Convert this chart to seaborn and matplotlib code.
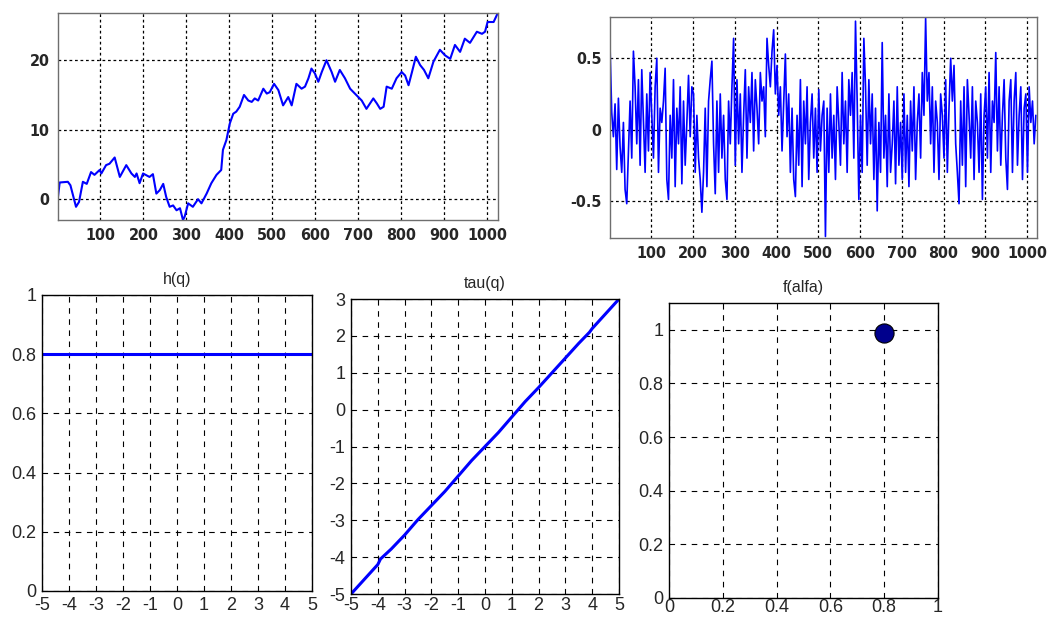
import numpy as np
import pandas as pd
import matplotlib
matplotlib.use("Agg")
import matplotlib.pyplot as plt
import seaborn as sns

# ---------------- data ----------------
walk_n = [1, 5, 24, 30, 43, 50, 59, 68, 78, 86, 98, 102, 113, 121, 133, 145, 160, 172,
          180, 184, 191, 199, 214, 222, 230, 238, 246, 253, 261, 269, 277, 285, 292, 296,
          304, 315, 327, 335, 347, 358, 370, 381, 385, 393, 401, 409, 416, 424, 434, 444,
          452, 459, 467, 479, 487, 494, 504, 514, 525, 537, 545, 556, 568, 576, 584, 591,
          599, 607, 615, 626, 638, 646, 657, 669, 681, 692, 700, 708, 719, 735, 743, 751,
          759, 766, 778, 789, 801, 809, 817, 825, 834, 844, 853, 863, 875, 890, 902, 914,
          925, 937, 948, 960, 976, 988, 995, 1001, 1015, 1024]
walk_v = [0.3, 2.4, 2.5, 2.0, -1.1, -0.4, 2.5, 2.2, 3.9, 3.5, 4.2, 3.7, 4.9, 5.1, 6.0, 3.2, 4.9, 3.7,
          3.2, 3.7, 2.3, 3.7, 3.2, 3.6, 0.8, 1.3, 2.2, 0.3, -1.1, -0.9, -1.6, -1.3, -3.0, -2.5,
          -0.6, -1.1, 0.0, -0.6, 0.8, 2.3, 3.5, 4.2, 7.1, 8.5, 10.9, 12.3, 12.6, 13.3, 15.0, 14.2,
          14.0, 14.5, 14.2, 15.9, 15.2, 15.4, 16.6, 15.7, 13.5, 14.7, 13.5, 16.6, 15.9, 16.2, 17.4, 18.8,
          18.1, 16.9, 18.3, 20.0, 18.3, 16.9, 18.6, 17.4, 15.9, 15.2, 14.7, 14.2, 13.0, 14.5, 13.8, 13.0,
          13.3, 16.2, 15.9, 17.4, 18.3, 17.8, 16.4, 18.3, 20.5, 19.3, 18.6, 17.4, 19.8, 21.5, 20.7, 20.2,
          22.2, 21.2, 23.1, 22.5, 24.1, 23.8, 24.1, 25.5, 25.5, 26.7]

noise_n = list(range(1, 1025, 4))
noise_v = [
    0.58, 0.12, -0.05, 0.18, -0.28, 0.22, -0.12, -0.30, 0.05, -0.42, -0.52, -0.15, 0.20, -0.20, 0.55, 0.30,
    -0.10, 0.35, -0.25, 0.42, 0.05, -0.30, 0.25, -0.15, 0.40, 0.10, -0.20, 0.30, 0.50, -0.30, 0.15, 0.05,
    0.20, 0.43, -0.35, -0.49, 0.10, -0.20, 0.35, -0.40, 0.15, -0.10, 0.30, -0.38, 0.20, -0.25, 0.05, 0.38,
    -0.05, 0.30, 0.25, -0.30, 0.10, -0.20, -0.35, -0.58, -0.30, 0.15, -0.40, 0.20, 0.35, 0.48, -0.10, -0.45,
    0.20, -0.30, 0.25, -0.20, 0.10, -0.35, -0.49, 0.20, -0.10, 0.30, 0.64, -0.25, 0.35, -0.10, 0.25, -0.30,
    0.10, 0.42, -0.20, 0.30, 0.05, 0.40, -0.15, 0.35, 0.15, -0.10, 0.40, 0.20, 0.30, -0.05, 0.64, 0.45,
    0.30, 0.55, 0.70, 0.25, 0.45, 0.10, 0.30, -0.15, 0.20, 0.53, -0.05, 0.25, -0.30, 0.15, -0.35, -0.47,
    0.10, -0.25, 0.35, -0.40, 0.20, -0.10, 0.30, -0.35, 0.05, 0.25, -0.20, 0.15, -0.30, 0.28, -0.15, 0.10,
    0.20, -0.75, 0.15, -0.30, 0.25, -0.20, 0.10, -0.35, 0.30, 0.05, -0.25, 0.40, -0.10, 0.20, -0.30, 0.35,
    0.10, 0.40, -0.20, 0.76, 0.20, -0.49, 0.10, -0.30, 0.64, 0.30, -0.25, 0.35, -0.10, 0.25, -0.35, 0.15,
    -0.57, 0.05, -0.30, 0.61, -0.20, 0.10, -0.40, 0.25, -0.30, -0.10, 0.20, -0.38, 0.30, -0.25, 0.05, -0.35,
    0.25, -0.30, 0.10, -0.40, 0.20, -0.15, 0.30, -0.35, 0.05, 0.25, -0.20, 0.40, 0.10, 0.78, 0.20, 0.40,
    -0.10, 0.30, -0.30, 0.20, 0.05, -0.35, 0.25, 0.10, -0.20, 0.35, -0.30, 0.15, 0.50, 0.20, 0.45, -0.10,
    -0.30, -0.52, 0.20, -0.25, 0.30, -0.40, 0.35, 0.10, -0.20, 0.30, -0.35, 0.20, 0.05, -0.30, 0.25, -0.49,
    0.10, 0.30, -0.20, 0.40, -0.30, 0.20, 0.05, 0.54, -0.15, 0.30, -0.25, 0.10, 0.35, -0.20, -0.42, 0.20,
    0.35, -0.30, 0.20, 0.40, -0.25, 0.10, 0.30, -0.35, 0.15, 0.25, -0.30, 0.30, 0.05, 0.20, -0.10, 0.10]

q_vals = [-5, -4, -3, -2, -1, 0, 1, 2, 3, 4, 5]
h_vals = [0.8, 0.8, 0.8, 0.8, 0.8, 0.8, 0.8, 0.8, 0.8, 0.8, 0.8]

tau_q = [-5.0, -4.5, -4.0, -3.9, -3.5, -3.0, -2.5, -2.0, -1.5, -1.0, -0.5, 0.0,
         0.5, 1.0, 1.5, 2.0, 2.5, 3.0, 3.5, 3.9, 4.0, 4.5, 5.0]
tau_v = [-5.0, -4.6, -4.2, -4.05, -3.78, -3.4, -2.98, -2.6, -2.22, -1.8, -1.38, -1.0,
         -0.62, -0.2, 0.22, 0.6, 1.0, 1.4, 1.8, 2.1, 2.2, 2.6, 3.0]

alpha_pt = [0.8]
falpha_pt = [0.99]

walk_xticks = [100, 200, 300, 400, 500, 600, 700, 800, 900, 1000]
walk_yticks = [0, 10, 20]
noise_yticks = [-0.5, 0, 0.5]
noise_yticklabels = ["-0.5", "0", "0.5"]
q_ticks = [-5, -4, -3, -2, -1, 0, 1, 2, 3, 4, 5]
h_yticks = [0, 0.2, 0.4, 0.6, 0.8, 1]
h_yticklabels = ["0", "0.2", "0.4", "0.6", "0.8", "1"]
tau_yticks = [-5, -4, -3, -2, -1, 0, 1, 2, 3]
f_ticks = [0, 0.2, 0.4, 0.6, 0.8, 1]
f_ticklabels = ["0", "0.2", "0.4", "0.6", "0.8", "1"]

# ---------------- style ----------------
sns.set_theme(style="white")
plt.rcParams["font.family"] = ["Liberation Sans", "DejaVu Sans"]
plt.rcParams["axes.unicode_minus"] = False

BLUE = "#0000ff"
fig = plt.figure(figsize=(10.5, 6.18), dpi=100)

def top_style(ax):
    ax.grid(True, color="black", linestyle=(0, (2.2, 2.2)), linewidth=0.9)
    for s in ax.spines.values():
        s.set_color("#6e6e6e")
        s.set_linewidth(1.0)
    ax.tick_params(direction="in", length=3, color="#6e6e6e", pad=6)
    for lab in ax.get_xticklabels() + ax.get_yticklabels():
        lab.set_fontfamily(["DejaVu Sans"])
        lab.set_fontweight("bold")
        lab.set_fontsize(11.5)
        lab.set_fontstretch("condensed")
    ax.set_xlabel("")
    ax.set_ylabel("")

def bottom_style(ax, title):
    ax.grid(True, color="black", linestyle=(0, (5, 5)), linewidth=0.8)
    for s in ax.spines.values():
        s.set_color("black")
        s.set_linewidth(1.0)
    ax.tick_params(direction="in", length=3, color="black", labelsize=13, pad=4)
    ax.set_title(title, fontsize=11.5, pad=8)
    ax.set_xlabel("")
    ax.set_ylabel("")

# top-left: random walk
ax1 = fig.add_axes([0.0552, 0.644, 0.419, 0.335])
sns.lineplot(x=walk_n, y=walk_v, ax=ax1, color=BLUE, linewidth=1.5)
ax1.set_xlim(1, 1025)
ax1.set_ylim(-3.0, 26.8)
ax1.set_xticks(walk_xticks)
ax1.set_yticks(walk_yticks)
ax1.set_axisbelow(True)
top_style(ax1)

# top-right: increments
ax2 = fig.add_axes([0.581, 0.615, 0.4067, 0.3576])
sns.lineplot(x=noise_n, y=noise_v, ax=ax2, color=BLUE, linewidth=1.2)
ax2.set_xlim(1, 1024)
ax2.set_ylim(-0.76, 0.79)
ax2.set_xticks(walk_xticks)
ax2.set_yticks(noise_yticks)
ax2.set_yticklabels(noise_yticklabels)
ax2.set_axisbelow(True)
top_style(ax2)

# bottom-left: h(q)
ax3 = fig.add_axes([0.04, 0.0437, 0.257, 0.479])
sns.lineplot(x=q_vals, y=h_vals, ax=ax3, color=BLUE, linewidth=2.2)
ax3.set_xlim(-5, 5)
ax3.set_ylim(0, 1)
ax3.set_xticks(q_ticks)
ax3.set_yticks(h_yticks)
ax3.set_yticklabels(h_yticklabels)
ax3.set_axisbelow(True)
bottom_style(ax3, "h(q)")

# bottom-middle: tau(q)
ax4 = fig.add_axes([0.3343, 0.0388, 0.2552, 0.4773])
sns.lineplot(x=tau_q, y=tau_v, ax=ax4, color=BLUE, linewidth=2.2)
ax4.set_xlim(-5, 5)
ax4.set_ylim(-5, 3)
ax4.set_xticks(q_ticks)
ax4.set_yticks(tau_yticks)
ax4.set_axisbelow(True)
bottom_style(ax4, "tau(q)")
ax4.tick_params(axis="x", pad=2)

# bottom-right: f(alfa)
ax5 = fig.add_axes([0.6371, 0.0324, 0.2562, 0.4773])
sns.scatterplot(x=alpha_pt, y=falpha_pt, ax=ax5, color="#00008c", edgecolor="black",
                linewidth=0.8, s=190, zorder=5)
ax5.set_xlim(0, 1)
ax5.set_ylim(0, 1.1)
ax5.set_xticks(f_ticks)
ax5.set_xticklabels(f_ticklabels)
ax5.set_yticks(f_ticks)
ax5.set_yticklabels(f_ticklabels)
ax5.set_axisbelow(True)
bottom_style(ax5, "f(alfa)")
ax5.tick_params(axis="x", pad=0.5)

fig.savefig("out.png", dpi=100)
